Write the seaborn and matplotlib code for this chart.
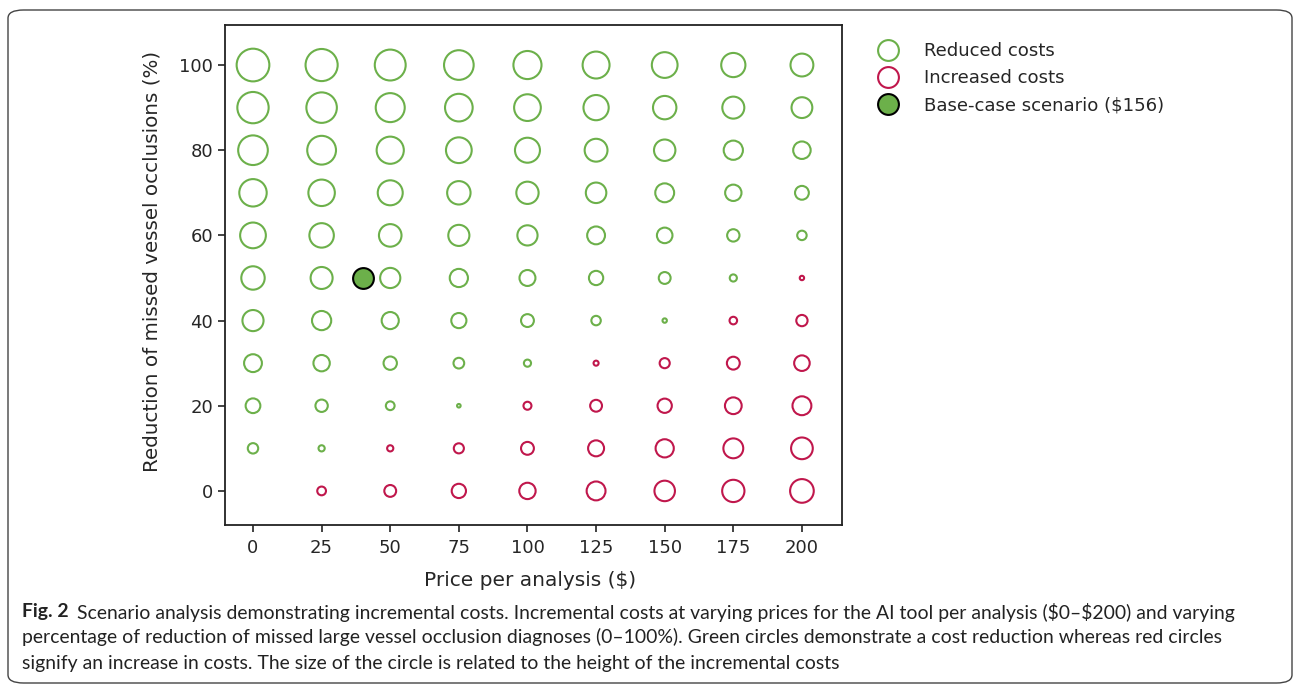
import numpy as np
import pandas as pd
import matplotlib
matplotlib.use("Agg")
import matplotlib.pyplot as plt
import seaborn as sns
from matplotlib.lines import Line2D
from matplotlib.patches import FancyBboxPatch

# Scenario grid: price of the AI tool per analysis and reduction of missed LVOs
prices = [0, 25, 50, 75, 100, 125, 150, 175, 200]
reductions = [100, 90, 80, 70, 60, 50, 40, 30, 20, 10, 0]

# Incremental costs per scenario (negative = cost reduction), one row per reduction level
incremental_costs = [
    [-84, -81, -75, -69, -62, -57, -52, -46, -41],
    [-77, -73, -66, -60, -56, -50, -43, -38, -34],
    [-69, -65, -58, -52, -49, -41, -36, -29, -24],
    [-59, -55, -49, -43, -39, -33, -28, -21, -15],
    [-52, -47, -40, -35, -32, -25, -19, -12, -7],
    [-43, -38, -32, -26, -20, -16, -11, -4, 1.5],
    [-35, -29, -23, -18, -13, -7, -1.5, 4.5, 10],
    [-25, -21, -14, -9, -4, 2, 8, 13, 19],
    [-17, -12, -6, -1, 5, 11, 16, 22, 28],
    [-8.5, -3, 3, 8, 13, 20, 26, 31, 37],
    [0, 6, 11, 16, 21, 28, 33, 39, 44],
]

base_case_price = 40
base_case_reduction = 50
base_case_cost = -34

outcome_labels = ["Reduced costs", "Increased costs", "Base-case scenario (\\$156)"]

GREEN = "#6CB04A"
RED = "#C0174C"

rows = []
for red, costs in zip(reductions, incremental_costs):
    for price, cost in zip(prices, costs):
        if cost == 0:
            continue
        rows.append({
            "price": price,
            "reduction": red,
            "cost": cost,
            "magnitude": abs(cost),
            "outcome": outcome_labels[0] if cost < 0 else outcome_labels[1],
        })
df = pd.DataFrame(rows)
base_df = pd.DataFrame({"price": [base_case_price],
                        "reduction": [base_case_reduction],
                        "magnitude": [abs(base_case_cost)]})

sns.set_style("ticks")
plt.rcParams["font.family"] = ["DejaVu Sans"]
plt.rcParams["font.sans-serif"] = ["DejaVu Sans"]

fig = plt.figure(figsize=(12.95, 6.85), dpi=100)
ax = fig.add_axes([225 / 1295, 1 - 525 / 685, 617 / 1295, 500 / 685])

size_kw = dict(size="magnitude", sizes=(0, 660), size_norm=(0, 100), legend=False)

for label, color in [(outcome_labels[0], GREEN), (outcome_labels[1], RED)]:
    sub = df[df["outcome"] == label]
    sns.scatterplot(data=sub, x="price", y="reduction", ax=ax,
                    facecolor="none", edgecolor=color, linewidth=1.5,
                    **size_kw)

sns.scatterplot(data=base_df, x="price", y="reduction", ax=ax,
                color=GREEN, edgecolor="black", linewidth=1.5, zorder=3,
                **size_kw)

ax.set_xlim(-10.2, 214.6)
ax.set_ylim(-8, 109.4)
ax.set_xticks(prices)
ax.set_yticks([0, 20, 40, 60, 80, 100])
ax.tick_params(labelsize=13, length=5, width=1.2, color="#222222")
ax.tick_params(axis="x", pad=5)
for sp in ax.spines.values():
    sp.set_linewidth(1.3)
    sp.set_color("#222222")
ax.set_xlabel("Price per analysis (\\$)", fontsize=14.5)
ax.set_ylabel("Reduction of missed vessel occlusions (%)", fontsize=14.3)
ax.xaxis.set_label_coords((530 - 225) / 617, (525 - 580) / 500)
ax.yaxis.set_label_coords((152 - 225) / 617, (525 - 261) / 500)
ax.xaxis.label.set_va("center")
ax.yaxis.label.set_va("center")

handles = [
    Line2D([], [], ls="", marker="o", markersize=15, markerfacecolor="none",
           markeredgecolor=GREEN, markeredgewidth=1.5),
    Line2D([], [], ls="", marker="o", markersize=15, markerfacecolor="none",
           markeredgecolor=RED, markeredgewidth=1.5),
    Line2D([], [], ls="", marker="o", markersize=15, markerfacecolor=GREEN,
           markeredgecolor="black", markeredgewidth=1.5),
]
fig.legend(handles, outcome_labels, loc="upper left",
           bbox_to_anchor=(863 / 1295, 1 - 35 / 685), frameon=False,
           fontsize=13.1, labelspacing=0.5, handletextpad=0.95,
           borderaxespad=0)

# Caption block
cap_font = "Lato"
cap_size = 13.0
cap_color = "#222222"
cap_x = 22 / 1295
line_y = [1 - 612 / 685, 1 - 637 / 685, 1 - 663 / 685]
fig_lbl = fig.text(cap_x, line_y[0], "Fig. 2", fontsize=cap_size, family=cap_font,
                   fontweight="bold", va="center", color=cap_color)
line1 = ax.annotate("Scenario analysis demonstrating incremental costs. Incremental costs at varying "
                    "prices for the AI tool per analysis (\\$0\u2013\\$200) and varying",
                    xy=(1, 0.5), xycoords=fig_lbl, xytext=(6, 0), textcoords="offset points",
                    va="center", ha="left", fontsize=cap_size, family=cap_font, color=cap_color,
                    annotation_clip=False)
line2 = fig.text(cap_x, line_y[1],
                 "percentage of reduction of missed large vessel occlusion diagnoses (0\u2013100%). "
                 "Green circles demonstrate a cost reduction whereas red circles",
                 fontsize=cap_size, family=cap_font, va="center", color=cap_color)
line3 = fig.text(cap_x, line_y[2],
                 "signify an increase in costs. The size of the circle is related to the height "
                 "of the incremental costs",
                 fontsize=cap_size, family=cap_font, va="center", color=cap_color)

# Scale the caption so its first line spans the text block width
fig.canvas.draw()
renderer = fig.canvas.get_renderer()
right_px = line1.get_window_extent(renderer).x1
target_right = 1236
scale = (target_right - 22) / (right_px - 22)
for t in (fig_lbl, line1, line2, line3):
    t.set_fontsize(cap_size * scale)

# Rounded frame around the figure
frame = FancyBboxPatch((8 / 1295, 2 / 685), 1284 / 1295, 673 / 685,
                       boxstyle="round,pad=0,rounding_size=0.012",
                       transform=fig.transFigure, fill=False,
                       edgecolor="#444444", linewidth=1.0)
fig.patches.append(frame)

fig.savefig("out.png", dpi=100)
